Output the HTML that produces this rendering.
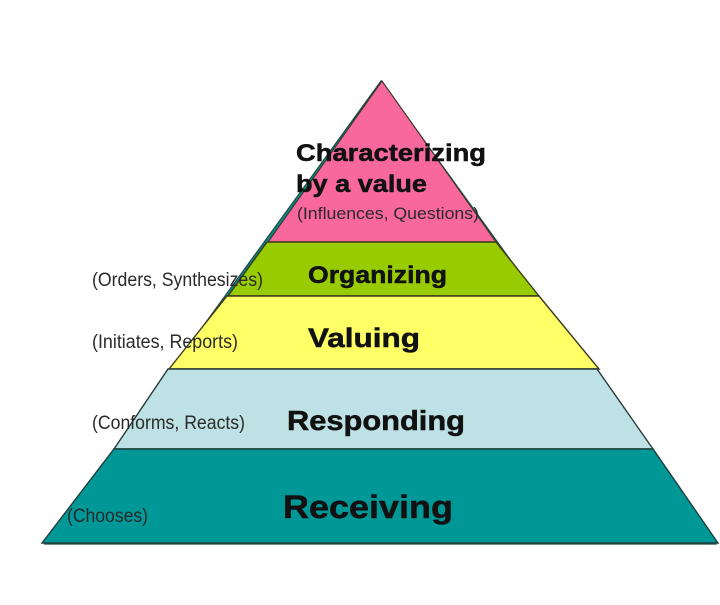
<!DOCTYPE html>
<html>
<head>
<meta charset="utf-8">
<style>
  html,body{margin:0;padding:0;background:#fff;}
  svg{display:block;}
  .h{font-family:"Liberation Sans",Arial,sans-serif;font-weight:bold;fill:#111;stroke:#111;stroke-width:0.5;}
  .s{font-family:"Liberation Sans",Arial,sans-serif;fill:#2a2a2a;}
</style>
</head>
<body>
<svg width="720" height="605" viewBox="0 0 720 605" xmlns="http://www.w3.org/2000/svg">
  <rect width="720" height="605" fill="#fff"/>
  <!-- background teal triangle (shadow/outline) -->
  <polygon points="381,81 45,544 716,544" fill="#0a8a8a" stroke="#1f4a45" stroke-width="1.2"/>
  <!-- layers -->
  <polygon points="382,81 268,242 496,242" fill="#f9689c" stroke="#3a3a2a" stroke-width="1.2"/>
  <polygon points="267,242 496,242 539,296 228,296" fill="#99cc00" stroke="#3a3a1a" stroke-width="1.4"/>
  <polygon points="227,296 539,296 599,369 169,369" fill="#ffff66" stroke="#3a3a1a" stroke-width="1.4"/>
  <polygon points="168,369 597,369 653,449 114,449" fill="#bde1e4" stroke="#2a3a3a" stroke-width="1.4"/>
  <polygon points="114,449 653,449 718,543 42,543" fill="#009797" stroke="#1f3f3f" stroke-width="1.4"/>

  <!-- headings -->
  <text class="h" x="296" y="161" font-size="24" textLength="190" lengthAdjust="spacingAndGlyphs">Characterizing</text>
  <text class="h" x="296" y="192" font-size="24" textLength="131" lengthAdjust="spacingAndGlyphs">by a value</text>
  <text class="s" x="297" y="219" font-size="17" textLength="182" lengthAdjust="spacingAndGlyphs">(Influences, Questions)</text>

  <text class="h" x="308" y="283" font-size="24" textLength="139" lengthAdjust="spacingAndGlyphs">Organizing</text>
  <text class="s" x="92" y="286" font-size="19" textLength="171" lengthAdjust="spacingAndGlyphs">(Orders, Synthesizes)</text>

  <text class="h" x="308" y="347" font-size="27" textLength="112" lengthAdjust="spacingAndGlyphs">Valuing</text>
  <text class="s" x="92" y="348" font-size="19" textLength="146" lengthAdjust="spacingAndGlyphs">(Initiates, Reports)</text>

  <text class="h" x="287" y="430" font-size="28" textLength="178" lengthAdjust="spacingAndGlyphs">Responding</text>
  <text class="s" x="92" y="429" font-size="19" textLength="153" lengthAdjust="spacingAndGlyphs">(Conforms, Reacts)</text>

  <text class="h" x="283" y="518" font-size="32" textLength="170" lengthAdjust="spacingAndGlyphs">Receiving</text>
  <text class="s" x="67" y="522" font-size="19" textLength="81" lengthAdjust="spacingAndGlyphs">(Chooses)</text>
</svg>
</body>
</html>
